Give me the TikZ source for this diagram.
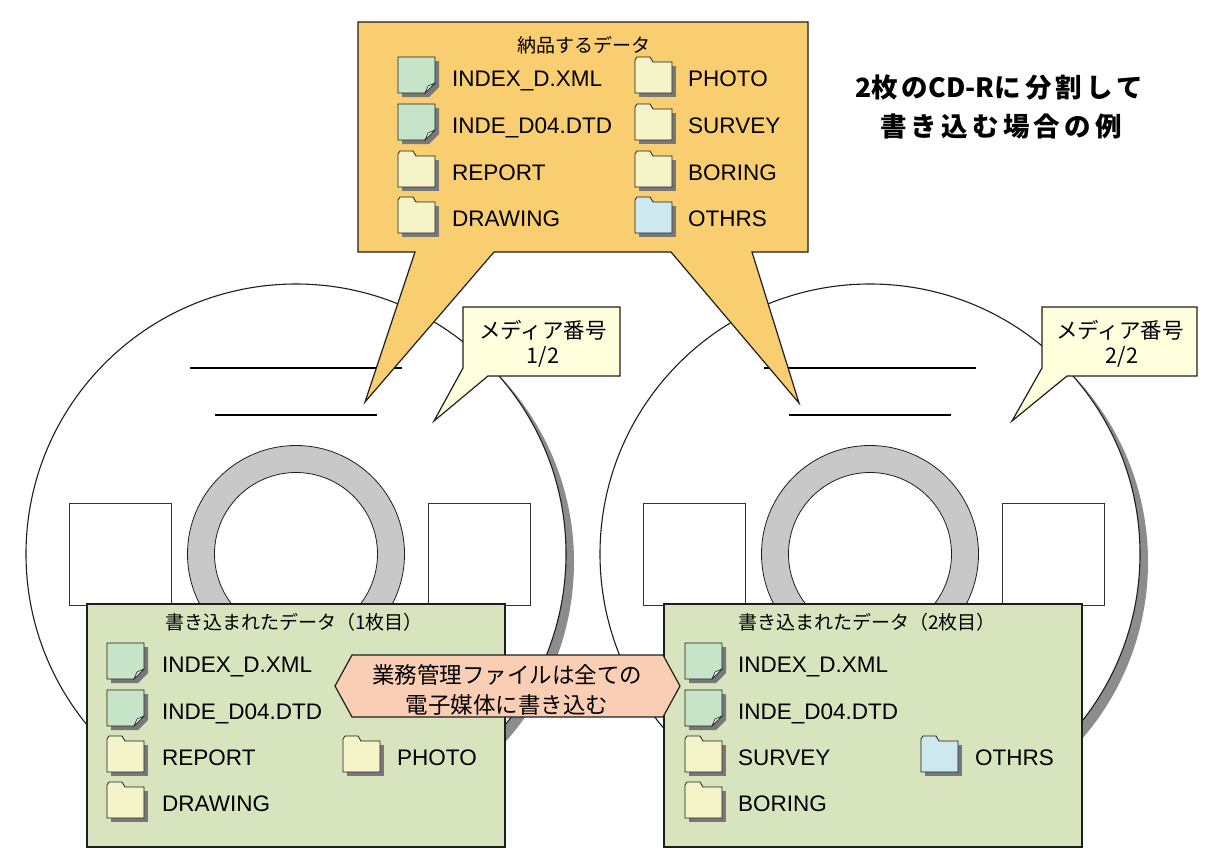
\documentclass[tikz,border=0pt]{standalone}
\usepackage{fontspec}
\setmainfont{Liberation Sans}
\newfontfamily\jp{Noto Sans CJK JP}
\newfontfamily\jptitle[LetterSpace=16]{Noto Sans CJK JP}

\definecolor{calloutorange}{RGB}{249,206,112}
\definecolor{panelgreen}{RGB}{215,228,189}
\definecolor{notepeach}{RGB}{250,206,180}
\definecolor{tagcream}{RGB}{255,255,221}
\definecolor{docgreen}{RGB}{198,228,200}
\definecolor{folderyellow}{RGB}{244,244,200}
\definecolor{folderblue}{RGB}{205,232,239}
\definecolor{ringgray}{RGB}{200,200,200}
\definecolor{discshadow}{RGB}{140,140,140}
\definecolor{iconshadow}{RGB}{120,120,120}
\definecolor{outline}{RGB}{30,30,30}

% Latin part of the heading, without the extra letter spacing
\newcommand\headlatin[1]{{\jp\bfseries #1}}

\begin{document}
\begin{tikzpicture}[x=1pt,y=-1pt,
  lbl/.style={anchor=base west, inner sep=0pt, font=\fontsize{22.5}{27}\selectfont},
  jpsmall/.style={inner sep=0pt, font=\jp\fontsize{19}{23}\selectfont},
  jpnote/.style={inner sep=0pt, font=\jp\fontsize{22.5}{27}\selectfont},
  jptag/.style={inner sep=0pt, font=\jp\fontsize{21.5}{25}\selectfont},
  jphead/.style={inner sep=0pt, font=\jptitle\bfseries\fontsize{26.5}{30}\selectfont},
  boxline/.style={draw=outline, line width=1.2pt},
  docicon/.pic={
    \fill[iconshadow] (4,4) -- (41,4) -- (41,30) -- (31,40) -- (4,40) -- cycle;
    \filldraw[fill=docgreen, draw=outline, line width=0.8pt]
      (0,0) -- (37,0) -- (37,26) -- (27,36) -- (0,36) -- cycle;
    \filldraw[fill=white!70!docgreen, draw=outline, line width=0.6pt]
      (37,26) -- (30,29) -- (27,36) -- cycle;
  },
  foldershape/.style={draw=outline, line width=0.8pt},
  foldericon/.pic={
    \fill[iconshadow] (4,40) -- (4,9) -- (41,9) -- (41,40) -- cycle;
    \filldraw[fill=folderyellow, foldershape]
      (0,36) -- (0,3) -- (2,0) -- (15,0) -- (18,5) -- (37,5) -- (37,36) -- cycle;
  },
  bluefoldericon/.pic={
    \fill[iconshadow] (4,40) -- (4,9) -- (41,9) -- (41,40) -- cycle;
    \filldraw[fill=folderblue, foldershape]
      (0,36) -- (0,3) -- (2,0) -- (15,0) -- (18,5) -- (37,5) -- (37,36) -- cycle;
  },
  cdisc/.pic={
    \fill[discshadow] (8,8) circle[radius=270pt];
    \filldraw[fill=white, draw=outline, line width=1.1pt] (0,0) circle[radius=270pt];
    \draw[draw=black!80, line width=0.7pt] (-227,-51) rectangle (-125,51);
    \draw[draw=black!80, line width=0.7pt] (132,-51) rectangle (234,51);
    \filldraw[fill=ringgray, draw=outline, line width=0.8pt, even odd rule]
      (0,0) circle[radius=108.5pt] (0,0) circle[radius=81.5pt];
    \draw[line width=1.6pt] (-106,-186) -- (106,-186);
    \draw[line width=1.6pt] (-81,-139) -- (81,-139);
  }
]
\useasboundingbox[fill=white] (0,0) rectangle (1211,857);

% the two discs
\pic at (296,554) {cdisc};
\pic at (870,554) {cdisc};

% callout with the data to deliver
\filldraw[fill=calloutorange, boxline]
  (358,22) -- (808,22) -- (808,252) -- (752,252) -- (799,403) -- (671,252)
  -- (494,252) -- (365,402) -- (415,252) -- (358,252) -- cycle;
\node[jpsmall] (deliver) at (584,45) {納品するデータ};

\pic at (398,57) {docicon};
\pic at (398,104) {docicon};
\pic at (398,151) {foldericon};
\pic at (398,197) {foldericon};
\node[lbl] (dIndex) at (452,86) {INDEX\_D.XML};
\node[lbl] (dDtd) at (452,133) {INDE\_D04.DTD};
\node[lbl] (dReport) at (452,180) {REPORT};
\node[lbl] (dDrawing) at (452,226) {DRAWING};

\pic at (635,57) {foldericon};
\pic at (635,104) {foldericon};
\pic at (635,151) {foldericon};
\pic at (635,197) {bluefoldericon};
\node[lbl] (dPhoto) at (688,86) {PHOTO};
\node[lbl] (dSurvey) at (688,133) {SURVEY};
\node[lbl] (dBoring) at (688,180) {BORING};
\node[lbl] (dOthrs) at (688,226) {OTHRS};

% heading
\node[jphead] (head1) at (999,88) {\headlatin{2}枚の\headlatin{CD-R}に分割して};
\node[jphead] (head2) at (1001,126) {書き込む場合の例};

% media number tags
\filldraw[fill=tagcream, boxline]
  (463,307) -- (620,307) -- (620,376) -- (488,376) -- (434,421) -- (463,368) -- cycle;
\node[jptag] (tag1a) at (543,330) {メディア番号};
\node[jptag] (tag1b) at (543,357) {1/2};
\filldraw[fill=tagcream, boxline]
  (1042,307) -- (1197,307) -- (1197,376) -- (1067,376) -- (1012,421) -- (1042,368) -- cycle;
\node[jptag] (tag2a) at (1120,330) {メディア番号};
\node[jptag] (tag2b) at (1122,357) {2/2};

% written data, disc 1
\filldraw[fill=panelgreen, boxline] (87,604) rectangle (505,847);
\node[jpsmall] (w1) at (294,622) {書き込まれたデータ（1枚目）};
\pic at (107,643) {docicon};
\pic at (107,690) {docicon};
\pic at (107,736) {foldericon};
\pic at (107,782) {foldericon};
\pic at (343,736) {foldericon};
\node[lbl] (aIndex) at (162,672) {INDEX\_D.XML};
\node[lbl] (aDtd) at (162,719) {INDE\_D04.DTD};
\node[lbl] (aReport) at (162,765) {REPORT};
\node[lbl] (aDrawing) at (162,811) {DRAWING};
\node[lbl] (aPhoto) at (397,765) {PHOTO};

% written data, disc 2
\filldraw[fill=panelgreen, boxline] (664,604) rectangle (1082,847);
\node[jpsmall] (w2) at (867,622) {書き込まれたデータ（2枚目）};
\pic at (685,643) {docicon};
\pic at (685,690) {docicon};
\pic at (685,736) {foldericon};
\pic at (685,782) {foldericon};
\pic at (921,736) {bluefoldericon};
\node[lbl] (bIndex) at (738,672) {INDEX\_D.XML};
\node[lbl] (bDtd) at (738,719) {INDE\_D04.DTD};
\node[lbl] (bSurvey) at (738,765) {SURVEY};
\node[lbl] (bBoring) at (738,811) {BORING};
\node[lbl] (bOthrs) at (975,765) {OTHRS};

% note on management files
\filldraw[fill=notepeach, boxline]
  (335,686) -- (352,655) -- (663,655) -- (680,686) -- (663,717) -- (352,717) -- cycle;
\node[jpnote] (note1) at (507,675) {業務管理ファイルは全ての};
\node[jpnote] (note2) at (507,705) {電子媒体に書き込む};
\end{tikzpicture}
\end{document}
